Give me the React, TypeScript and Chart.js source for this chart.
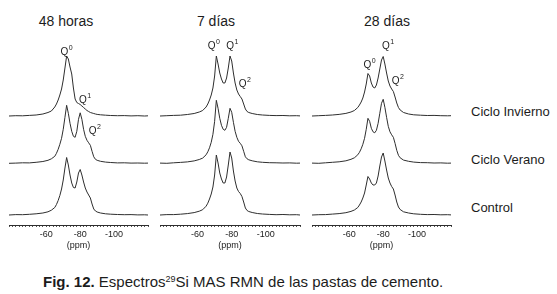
import React, { useEffect, useRef } from "react";
import { Chart, registerables } from "chart.js";

Chart.register(...registerables);

// ---- data ----
const ppmGrid = [
  -38, -42, -46, -50, -54, -58, -61, -63, -65, -66, -67, -68, -69, -70, -71, -72, -73, -74, -75,
  -76, -77, -78, -79, -80, -81, -82, -83, -84, -85, -86, -87, -88, -89, -90, -92, -95, -98, -102,
  -106, -110, -114, -118, -120,
];

const panelTitles = ["48 horas", "7 días", "28 días"];
const seriesNames = ["Ciclo Invierno", "Ciclo Verano", "Control"];
const xTickLabels = [-60, -80, -100];

// 48 horas
const h48Invierno = [0, 0.3, 0.2, 0.6, 1, 2, 3.5, 5, 9, 12, 16, 21, 27, 36, 48, 60, 57, 49, 42, 28, 17, 13.5, 12.5, 11.5, 10, 8.5, 7, 5.5, 4.5, 3.5, 3, 2.5, 2, 1.6, 1.2, 0.8, 0.5, 0.3, 0.4, 0.1, 0.3, 0, 0.2];
const h48Verano = [0, 0.2, 0.5, 0.4, 1, 1.8, 3, 4.5, 7, 10, 14, 19, 25, 34, 46, 58, 50, 40, 32, 27, 26, 32, 44, 50.5, 44, 34, 27, 23, 20.5, 18, 12, 6.5, 4, 3, 2, 1.2, 0.8, 0.4, 0.5, 0.2, 0.3, 0.1, 0.2];
const h48Control = [0, 0.4, 0.3, 0.7, 1.2, 2, 3.2, 4.8, 7.5, 10.5, 14.5, 19.5, 26, 35, 47, 57.5, 50, 40, 32, 27.5, 27, 33, 42, 45.5, 40, 33, 27, 23, 20, 17, 11, 6, 4, 3, 2, 1.2, 0.8, 0.5, 0.3, 0.4, 0.1, 0.2, 0];

// 7 días
const d7Invierno = [0, 0.3, 0.6, 0.8, 1.5, 2.5, 4, 5.5, 9, 12, 16, 21, 28, 40, 60, 52, 43, 37, 33, 33, 38, 48, 60, 55, 43, 33, 26, 22, 19.5, 17, 12, 7, 4.5, 3.5, 2.5, 1.5, 1, 0.6, 0.4, 0.5, 0.2, 0.3, 0.1];
const d7Verano = [0.2, 0, 0.5, 0.9, 1.4, 2.4, 3.8, 5.2, 8.5, 11.5, 15.5, 21, 29, 42, 63, 55, 45, 38, 34, 33, 36, 45, 55, 51, 41, 32, 26, 22, 20, 17.5, 12, 6.5, 4.5, 3.5, 2.5, 1.5, 1, 0.6, 0.5, 0.3, 0.4, 0.1, 0.2];
const d7Control = [0, 0.4, 0.4, 0.8, 1.4, 2.4, 3.8, 5.3, 8.8, 11.8, 16, 21, 28, 40, 60, 52, 42, 36, 32, 32, 38, 50, 63, 57, 44, 34, 27, 23.5, 21.5, 18.5, 13, 7, 4.5, 3.5, 2.5, 1.5, 1, 0.6, 0.3, 0.5, 0.2, 0.3, 0];

// 28 días
const d28Invierno = [0, 0.3, 0.6, 1, 1.6, 2.6, 4, 5.5, 8.5, 11, 14, 18, 24, 32, 42.5, 40, 33, 29, 28, 31, 38, 47, 56, 59.5, 52, 43, 35, 30, 27, 24.5, 19, 13, 8.5, 6, 3.5, 2, 1.2, 0.8, 0.5, 0.6, 0.3, 0.2, 0.3];
const d28Verano = [0.2, 0, 0.5, 1, 1.5, 2.5, 4, 5.5, 8.5, 11, 14.5, 19, 25, 34, 45, 42, 35, 31.5, 30.5, 33, 40, 50, 60, 64, 56, 46, 37, 31.5, 28.5, 26, 20, 13, 8, 5.5, 3.2, 2, 1.2, 0.7, 0.6, 0.3, 0.4, 0.1, 0.2];
const d28Control = [0, 0.3, 0.4, 0.9, 1.4, 2.3, 3.6, 5, 7.5, 10, 13, 17, 22, 30, 38.5, 36, 32, 30, 30, 32, 39, 49, 58, 62, 54, 45, 37, 32, 28.5, 26, 20, 13, 8, 5.5, 3.2, 2, 1.2, 0.7, 0.4, 0.5, 0.2, 0.3, 0.1];

const panelSeries = [
  [h48Invierno, h48Verano, h48Control],
  [d7Invierno, d7Verano, d7Control],
  [d28Invierno, d28Verano, d28Control],
];

// peak labels (ppm, height in plot units, superscript)
const qLabels48 = [
  { ppm: -68.4, y: 173, sup: "0" },
  { ppm: -79.3, y: 125, sup: "1" },
  { ppm: -85.0, y: 93.5, sup: "2" },
];
const qLabels7 = [
  { ppm: -66.0, y: 178.5, sup: "0" },
  { ppm: -76.8, y: 178.5, sup: "1" },
  { ppm: -84.1, y: 141, sup: "2" },
];
const qLabels28 = [
  { ppm: -68.4, y: 160, sup: "0" },
  { ppm: -79.3, y: 178.5, sup: "1" },
  { ppm: -85.0, y: 143.5, sup: "2" },
];
const panelQ = [qLabels48, qLabels7, qLabels28];

// ---- layout / style ----
const FONT = 'Arial, "Liberation Sans", Helvetica, sans-serif';
const INK = "#1c1c1c";
const LINE = "#2e2e2e";
const OFFSETS = [109, 61.7, 10];
const PANEL_BOX = [
  { left: 7, width: 143, titleX: 66 },
  { left: 158, width: 144, titleX: 216 },
  { left: 310, width: 143, titleX: 387 },
];
const CANVAS_TOP = 35;
const CANVAS_H = 220;

const qPlugin = {
  id: "qlabels",
  afterDatasetsDraw(chart: any, _args: any, opts: any) {
    const { ctx } = chart;
    const xs = chart.scales.x;
    const ys = chart.scales.y;
    ctx.save();
    ctx.fillStyle = INK;
    ctx.textAlign = "left";
    ctx.textBaseline = "middle";
    for (const l of opts.items || []) {
      const px = xs.getPixelForValue(l.ppm);
      const py = ys.getPixelForValue(l.y);
      ctx.font = `10px ${FONT}`;
      ctx.fillText("Q", px, py);
      const w = ctx.measureText("Q").width;
      ctx.font = `7px ${FONT}`;
      ctx.fillText(l.sup, px + w + 0.5, py - 4);
    }
    ctx.restore();
  },
};

function Panel({ index }: { index: number }) {
  const ref = useRef<HTMLCanvasElement | null>(null);
  const box = PANEL_BOX[index];
  useEffect(() => {
    if (!ref.current) return;
    const datasets = panelSeries[index].map((arr, i) => ({
      label: seriesNames[i],
      data: arr.map((v, k) => ({ x: ppmGrid[k], y: v + OFFSETS[i] })),
      borderColor: LINE,
      borderWidth: 1,
      pointRadius: 0,
      tension: 0,
      fill: false,
    }));
    const chart = new Chart(ref.current, {
      type: "line",
      data: { datasets },
      plugins: [qPlugin],
      options: {
        animation: false,
        responsive: false,
        devicePixelRatio: 1,
        layout: { padding: { top: 10, left: 0, right: 0, bottom: 0 } },
        plugins: {
          legend: { display: false },
          tooltip: { enabled: false },
          title: { display: false },
          qlabels: { items: panelQ[index] },
        } as any,
        scales: {
          x: {
            type: "linear",
            min: -120,
            max: -38,
            reverse: true,
            border: { display: true, color: LINE, width: 1 },
            grid: {
              drawOnChartArea: false,
              drawTicks: true,
              tickLength: 2,
              tickColor: "#555",
              tickWidth: 1,
            },
            ticks: {
              stepSize: 2,
              autoSkip: false,
              maxTicksLimit: 100,
              maxRotation: 0,
              minRotation: 0,
              padding: 2,
              color: INK,
              font: { size: 9, family: FONT },
              callback: (v: any) => (xTickLabels.includes(Number(v)) ? String(v) : ""),
            },
            title: {
              display: true,
              text: "(ppm)",
              color: INK,
              font: { size: 9, family: FONT },
              padding: { top: 0, bottom: 4 },
            },
            afterFit: (scale: any) => {
              scale.height = 30;
            },
          },
          y: { display: false, min: 0, max: 180 },
        },
      } as any,
    });
    return () => chart.destroy();
  }, [index]);
  return (
    <>
      <div
        style={{
          position: "absolute",
          left: box.titleX,
          top: 13,
          transform: "translateX(-50%)",
          font: `14px ${FONT}`,
          lineHeight: "16px",
          color: INK,
          whiteSpace: "nowrap",
        }}
      >
        {panelTitles[index]}
      </div>
      <canvas
        ref={ref}
        width={box.width}
        height={CANVAS_H}
        style={{
          position: "absolute",
          left: box.left,
          top: CANVAS_TOP,
          width: box.width,
          height: CANVAS_H,
        }}
      />
    </>
  );
}

export default function App() {
  const labelTops = [104, 152, 200];
  return (
    <div
      style={{
        position: "absolute",
        left: 0,
        top: 0,
        width: 557,
        height: 294,
        background: "#fff",
        overflow: "hidden",
        fontFamily: FONT,
      }}
    >
      {[0, 1, 2].map((i) => (
        <Panel key={i} index={i} />
      ))}
      {seriesNames.map((n, i) => (
        <div
          key={n}
          style={{
            position: "absolute",
            left: 471,
            top: labelTops[i],
            font: `13px ${FONT}`,
            lineHeight: "16px",
            color: INK,
            whiteSpace: "nowrap",
          }}
        >
          {n}
        </div>
      ))}
      <div
        style={{
          position: "absolute",
          left: 43,
          top: 273,
          font: `15px ${FONT}`,
          lineHeight: "18px",
          color: INK,
          whiteSpace: "nowrap",
        }}
      >
        <b>Fig. 12.</b> Espectros
        <sup style={{ fontSize: 9, verticalAlign: "5px", lineHeight: 0 }}>29</sup>
        Si MAS RMN de las pastas de cemento.
      </div>
    </div>
  );
}
